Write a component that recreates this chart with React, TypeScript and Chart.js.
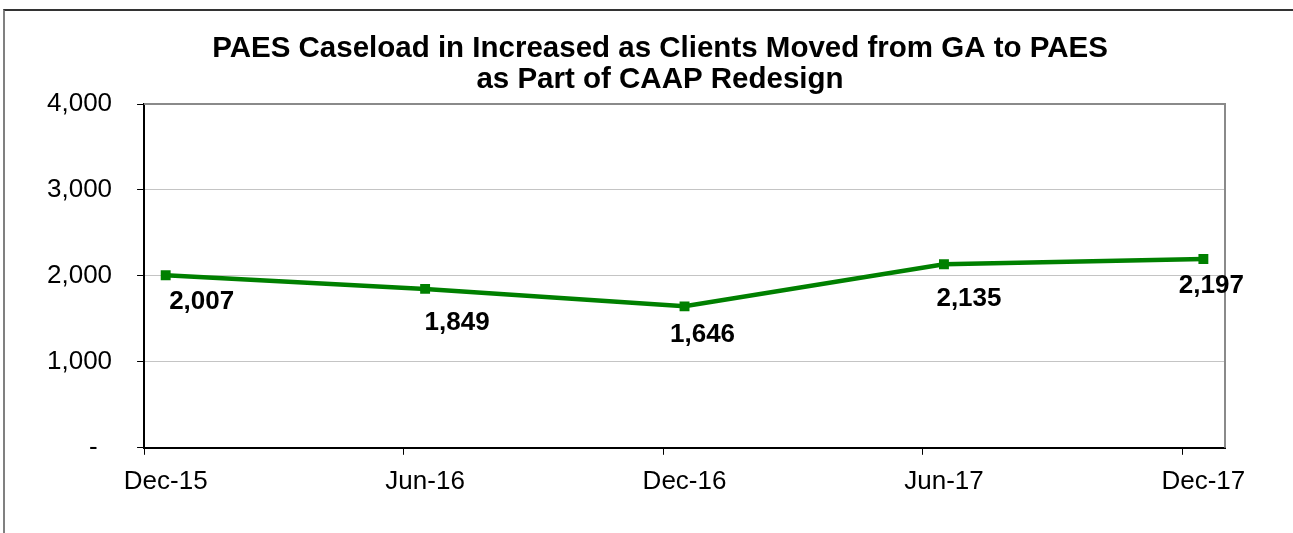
import React, { useEffect, useRef } from 'react';
import { Chart, registerables } from 'chart.js';

Chart.register(...registerables);

const TITLE_LINES = [
  'PAES Caseload in Increased as Clients Moved from GA to PAES',
  'as Part of CAAP Redesign',
];
const CATEGORIES = ['Dec-15', 'Jun-16', 'Dec-16', 'Jun-17', 'Dec-17'];
// months elapsed since Dec-15 for each category
const MONTHS = [0, 6, 12, 18, 24];
const CASELOAD = [2007, 1849, 1646, 2135, 2197];
const Y_MIN = 0;
const Y_MAX = 4000;
const Y_STEP = 1000;

// styling: manual data-label nudges (dx, dy) as in the original
const LABEL_OFFSETS: [number, number][] = [
  [36, 27],
  [32, 34],
  [18, 29],
  [25, 35],
  [8, 27],
];
// styling: title placement (centre x, baselines)
const TITLE_CENTER_X = 660;
const TITLE_BASELINES = [57, 88];

const FONT = '"Liberation Sans", Arial, Helvetica, sans-serif';
const GREEN = '#008000';

const fmt = (v: number) => (v === 0 ? '-  ' : v.toLocaleString('en-US'));

const extrasPlugin = {
  id: 'extras',
  beforeDatasetsDraw(chart: any) {
    const { ctx, chartArea, scales } = chart;
    ctx.save();
    // plot-area border (top and right)
    ctx.strokeStyle = '#8a8a8a';
    ctx.lineWidth = 2;
    ctx.beginPath();
    ctx.moveTo(chartArea.left, chartArea.top);
    ctx.lineTo(chartArea.right, chartArea.top);
    ctx.lineTo(chartArea.right, chartArea.bottom);
    ctx.stroke();
    // x tick marks between month slots
    const xs = scales.x;
    ctx.strokeStyle = '#000';
    ctx.lineWidth = 1;
    MONTHS.forEach((m) => {
      const px = Math.round(xs.getPixelForValue(m - 0.5)) + 0.5;
      ctx.beginPath();
      ctx.moveTo(px, chartArea.bottom);
      ctx.lineTo(px, chartArea.bottom + 7);
      ctx.stroke();
    });
    ctx.restore();
  },
  afterDatasetsDraw(chart: any) {
    const { ctx } = chart;
    const meta = chart.getDatasetMeta(0);
    ctx.save();
    ctx.font = `bold 26px ${FONT}`;
    ctx.fillStyle = '#000';
    ctx.textAlign = 'center';
    ctx.textBaseline = 'middle';
    meta.data.forEach((pt: any, i: number) => {
      const [dx, dy] = LABEL_OFFSETS[i];
      ctx.fillText(CASELOAD[i].toLocaleString('en-US'), pt.x + dx, pt.y + dy);
    });
    // chart title
    ctx.font = `bold 29.5px ${FONT}`;
    ctx.textBaseline = 'alphabetic';
    TITLE_LINES.forEach((line, i) => {
      ctx.fillText(line, TITLE_CENTER_X, TITLE_BASELINES[i]);
    });
    ctx.restore();
  },
};

export default function App() {
  const ref = useRef<HTMLCanvasElement | null>(null);

  useEffect(() => {
    if (!ref.current) return;
    const chart = new Chart(ref.current, {
      type: 'line',
      data: {
        datasets: [
          {
            data: MONTHS.map((m, i) => ({ x: m, y: CASELOAD[i] })),
            borderColor: GREEN,
            backgroundColor: GREEN,
            borderWidth: 4.5,
            pointStyle: 'rect',
            pointRadius: 7,
            pointBorderWidth: 0,
            pointBackgroundColor: GREEN,
            tension: 0,
          },
        ],
      },
      options: {
        animation: false,
        responsive: true,
        maintainAspectRatio: false,
        layout: { padding: { left: 22, right: 68, top: 104, bottom: 26 } },
        plugins: {
          legend: { display: false },
          tooltip: { enabled: false },
          title: { display: false },
        },
        scales: {
          x: {
            type: 'linear',
            min: MONTHS[0] - 0.5,
            max: MONTHS[MONTHS.length - 1] + 0.5,
            afterBuildTicks: (scale: any) => {
              scale.ticks = MONTHS.map((m) => ({ value: m }));
            },
            afterFit: (scale: any) => {
              scale.paddingLeft = 0;
              scale.paddingRight = 0;
            },
            grid: { display: false },
            border: { display: true, color: '#000', width: 2 },
            ticks: {
              autoSkip: false,
              maxRotation: 0,
              padding: 10,
              color: '#000',
              font: { family: FONT, size: 26 },
              callback: (v: any) => {
                const i = MONTHS.indexOf(Number(v));
                return i >= 0 ? CATEGORIES[i] : '';
              },
            },
          },
          y: {
            min: Y_MIN,
            max: Y_MAX,
            grid: { color: '#c4c4c4', lineWidth: 1, tickLength: 7, tickColor: '#000' },
            border: { display: true, color: '#000', width: 2 },
            ticks: {
              stepSize: Y_STEP,
              padding: 25,
              color: '#000',
              font: { family: FONT, size: 26 },
              callback: (v: any) => fmt(Number(v)),
            },
          },
        },
      },
      plugins: [extrasPlugin],
    });
    return () => chart.destroy();
  }, []);

  return (
    <div style={{ position: 'absolute', left: 0, top: 0, width: 1293, height: 533, background: '#fff', overflow: 'hidden' }}>
      <div
        style={{
          position: 'absolute',
          left: 3,
          top: 9,
          width: 1400,
          height: 600,
          borderTop: '2px solid #333',
          borderLeft: '2px solid #808080',
        }}
      />
      <div style={{ position: 'absolute', left: 0, top: 0, width: 1293, height: 533 }}>
        <canvas ref={ref} />
      </div>
    </div>
  );
}
